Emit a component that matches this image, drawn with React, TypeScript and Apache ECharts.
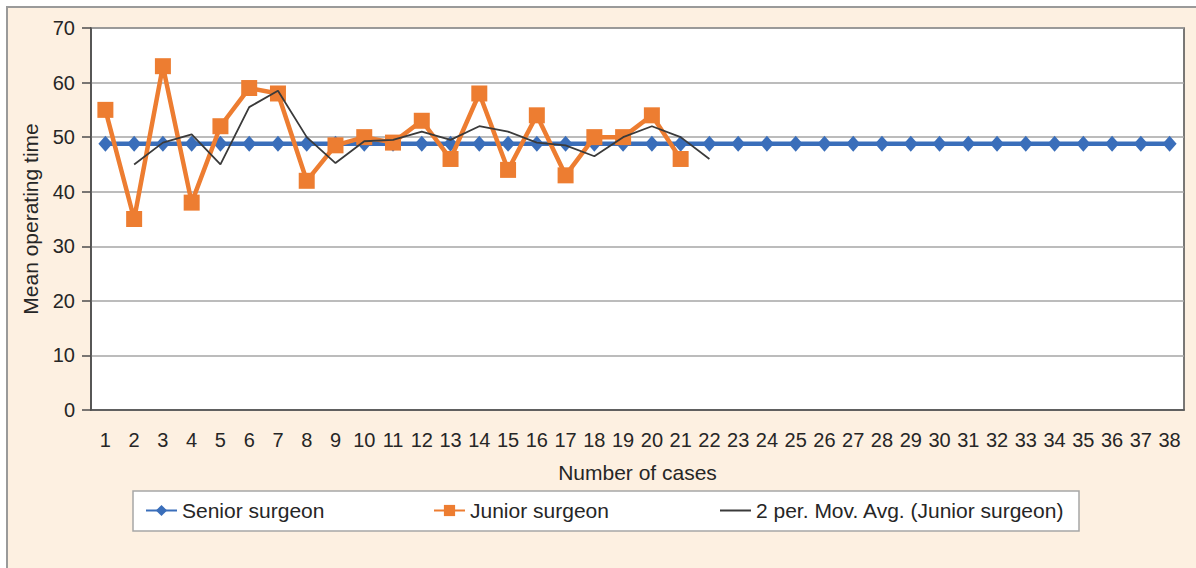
import React, { useEffect, useRef } from "react";
import * as echarts from "echarts";

const categories = [
  "1", "2", "3", "4", "5", "6", "7", "8", "9", "10",
  "11", "12", "13", "14", "15", "16", "17", "18", "19", "20",
  "21", "22", "23", "24", "25", "26", "27", "28", "29", "30",
  "31", "32", "33", "34", "35", "36", "37", "38",
];

const seniorSurgeon = [
  48.8, 48.8, 48.8, 48.8, 48.8, 48.8, 48.8, 48.8, 48.8, 48.8,
  48.8, 48.8, 48.8, 48.8, 48.8, 48.8, 48.8, 48.8, 48.8, 48.8,
  48.8, 48.8, 48.8, 48.8, 48.8, 48.8, 48.8, 48.8, 48.8, 48.8,
  48.8, 48.8, 48.8, 48.8, 48.8, 48.8, 48.8, 48.8,
];

const juniorSurgeon = [
  55, 35, 63, 38, 52, 59, 58, 42, 48.5, 50,
  49, 53, 46, 58, 44, 54, 43, 50, 50, 54,
  46,
];

const movingAverage = [
  null, 45, 49, 50.5, 45, 55.5, 58.5, 50, 45.25, 49.25,
  49.5, 51, 49.5, 52, 51, 49, 48.5, 46.5, 50, 52,
  50, 46,
];

const yTicks = { min: 0, max: 70, interval: 10 };

const FONT = "'Liberation Sans', Arial, sans-serif";

export default function App() {
  const ref = useRef<HTMLDivElement>(null);

  useEffect(() => {
    if (!ref.current) return;
    const chart = echarts.init(ref.current, null, { renderer: "svg" });
    const legendText = { fontSize: 21, color: "#262626", fontFamily: FONT };
    chart.setOption({
      animation: false,
      textStyle: { fontFamily: FONT },
      grid: {
        left: 91,
        right: 12,
        top: 28,
        bottom: 158,
        show: true,
        backgroundColor: "#ffffff",
        borderColor: "#4d4d4d",
        borderWidth: 1.5,
      },
      graphic: [
        {
          type: "rect",
          z: 0,
          shape: { x: 133, y: 491, width: 946, height: 40 },
          style: { fill: "#ffffff", stroke: "#a6a6a6", lineWidth: 1.5 },
        },
      ],
      legend: [
        {
          data: ["Senior surgeon"],
          left: 145,
          top: 500,
          padding: 0,
          itemWidth: 31,
          itemHeight: 14,
          textStyle: legendText,
        },
        {
          data: ["Junior surgeon"],
          left: 433,
          top: 500,
          padding: 0,
          itemWidth: 31,
          itemHeight: 14,
          textStyle: legendText,
        },
        {
          data: [{ name: "2 per. Mov. Avg. (Junior surgeon)", icon: "rect" }],
          left: 720,
          top: 500,
          padding: 0,
          itemWidth: 31,
          itemHeight: 2,
          textStyle: legendText,
        },
      ],
      xAxis: {
        type: "category",
        data: categories,
        boundaryGap: true,
        name: "Number of cases",
        nameLocation: "middle",
        nameGap: 52,
        nameTextStyle: { fontSize: 21, color: "#262626", fontFamily: FONT },
        axisLine: { lineStyle: { color: "#4d4d4d", width: 1.5 } },
        axisTick: { show: false },
        axisLabel: {
          fontSize: 20,
          color: "#262626",
          margin: 20,
          interval: 0,
          fontFamily: FONT,
        },
      },
      yAxis: {
        type: "value",
        min: yTicks.min,
        max: yTicks.max,
        interval: yTicks.interval,
        name: "Mean operating time",
        nameLocation: "middle",
        nameGap: 50,
        nameTextStyle: { fontSize: 21, color: "#262626", fontFamily: FONT },
        axisLine: { show: true, lineStyle: { color: "#4d4d4d", width: 1.5 } },
        axisTick: { show: true, length: 9, lineStyle: { color: "#4d4d4d", width: 1.5 } },
        axisLabel: { fontSize: 20, color: "#262626", margin: 16, fontFamily: FONT },
        splitLine: { lineStyle: { color: "#a6a6a6", width: 1.5 } },
      },
      series: [
        {
          name: "Senior surgeon",
          type: "line",
          data: seniorSurgeon,
          symbol: "diamond",
          symbolSize: [14, 16],
          lineStyle: { color: "#3a6eba", width: 4.5 },
          itemStyle: { color: "#3a6eba" },
          z: 2,
        },
        {
          name: "Junior surgeon",
          type: "line",
          data: juniorSurgeon,
          symbol: "rect",
          symbolSize: 16,
          lineStyle: { color: "#ed7d31", width: 4.5 },
          itemStyle: { color: "#ed7d31" },
          z: 3,
        },
        {
          name: "2 per. Mov. Avg. (Junior surgeon)",
          type: "line",
          data: movingAverage,
          symbol: "none",
          lineStyle: { color: "#3a3a3a", width: 1.8 },
          itemStyle: { color: "#3a3a3a" },
          z: 4,
        },
      ],
    });
    return () => chart.dispose();
  }, []);

  return (
    <div
      style={{
        position: "fixed",
        left: 0,
        top: 0,
        width: 1196,
        height: 568,
        background: "#ffffff",
        overflow: "hidden",
      }}
    >
      <div
        style={{
          position: "absolute",
          left: 6,
          top: 6,
          right: -10,
          bottom: -10,
          background: "#fdf0e1",
          borderLeft: "2px solid #9a9a9a",
          borderTop: "2px solid #9a9a9a",
        }}
      />
      <div
        ref={ref}
        style={{ position: "absolute", left: 0, top: 0, width: 1196, height: 568 }}
      />
    </div>
  );
}
